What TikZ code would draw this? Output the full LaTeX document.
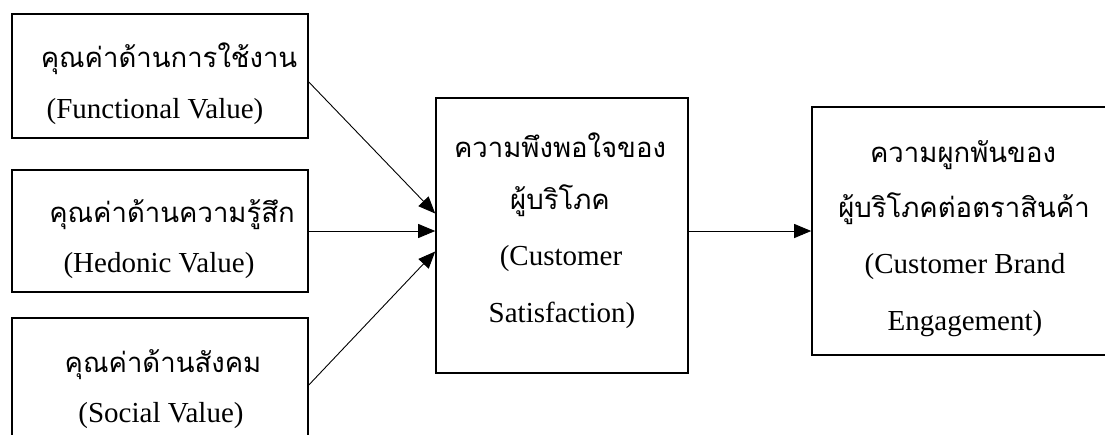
\documentclass[tikz,border=0pt]{standalone}
\usepackage{fontspec}
\setmainfont{Liberation Serif}
\newfontfamily\thaifont[Script=Thai]{Loma}
\usetikzlibrary{arrows.meta}
\begin{document}
\begin{tikzpicture}[x=1pt,y=-1pt,
  box/.style={draw, line width=1.6pt, inner sep=0pt, rectangle},
  en/.style={anchor=base, inner sep=0pt, font=\fontsize{29}{33}\selectfont},
  th/.style={anchor=base, inner sep=0pt, font=\thaifont\fontsize{27.5}{31}\selectfont},
  conn/.style={line width=0.9pt, -{Triangle[length=17pt,width=14pt]}}]
\path[use as bounding box] (0,0) rectangle (1105,434);
\clip (0,0) rectangle (1105,434);
% boxes
\node[box, minimum width=296pt, minimum height=124pt] (b1) at (160,76) {};
\node[box, minimum width=296pt, minimum height=122pt] (b2) at (160,231) {};
\node[box, minimum width=296pt, minimum height=142pt] (b3) at (160,389) {};
\node[box, minimum width=252pt, minimum height=275pt] (c) at (562,235.5) {};
\node[box, minimum width=303pt, minimum height=248pt] (r) at (963.5,231) {};
% texts
\node[th] (t1a) at (169,67) {คุณค่าด้านการใช้งาน};
\node[en] (t1b) at (155,118) {(Functional Value)};
\node[th] (t2a) at (172,222) {คุณค่าด้านความรู้สึก};
\node[en] (t2b) at (159,272) {(Hedonic Value)};
\node[th] (t3a) at (163,372) {คุณค่าด้านสังคม};
\node[en] (t3b) at (161,422) {(Social Value)};
\node[th] (tca) at (560,157) {ความพึงพอใจของ};
\node[th] (tcb) at (560,209) {ผู้บริโภค};
\node[en] (tcc) at (561,265) {(Customer};
\node[en] (tcd) at (562,322) {Satisfaction)};
\node[th] (tra) at (963,162) {ความผูกพันของ};
\node[th] (trb) at (964,217) {ผู้บริโภคต่อตราสินค้า};
\node[en] (trc) at (965,273) {(Customer Brand};
\node[en] (trd) at (965,330) {Engagement)};
% connectors
\draw[conn] ([yshift=-6pt]b1.east) -- ([yshift=22pt]c.west);
\draw[conn] (b2.east) -- (b2.east -| c.west);
\draw[conn] ([yshift=4pt]b3.east) -- ([yshift=-16pt]c.west);
\draw[conn] (c.east |- r.west) -- (r.west);
\end{tikzpicture}
\end{document}
